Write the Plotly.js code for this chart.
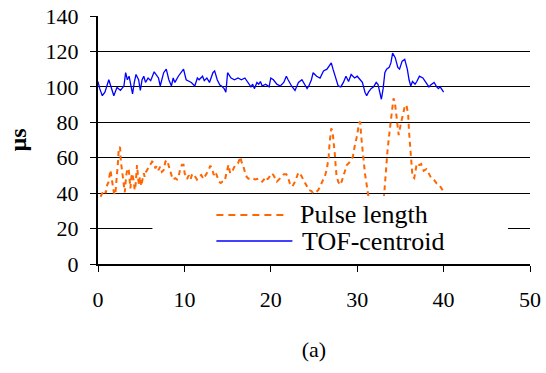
<!DOCTYPE html>
<html>
<head>
<meta charset="utf-8">
<script src="https://cdn.plot.ly/plotly-3.0.1.min.js"></script>
<style>html,body{margin:0;padding:0;background:#fff;}#chart{width:546px;height:373px;}</style>
</head>
<body>
<div id="chart"></div>
<script>
// Time axis (x) values and series
const tofTime = [0.0,0.2,0.5,0.8,1.25,1.45,1.83,2.2,2.6,3.0,3.2,3.4,3.6,3.8,4.0,4.2,4.4,4.6,4.7,4.9,5.1,5.3,5.5,5.8,6.1,6.5,6.7,7.0,7.2,7.6,7.9,8.2,8.5,8.7,8.9,9.3,9.9,10.2,10.8,11.2,11.5,11.7,12.1,12.3,12.6,12.9,13.3,13.5,13.8,14.1,14.3,14.6,14.8,15.0,15.4,15.8,16.2,16.6,17.0,17.3,17.7,17.9,18.1,18.4,18.6,18.8,19.0,19.4,19.8,20.0,20.3,20.7,21.1,21.5,21.8,22.0,22.4,22.8,23.2,23.6,23.8,24.2,24.4,24.7,24.9,25.3,25.7,26.1,26.5,26.8,27.0,27.2,27.4,27.8,28.1,28.4,28.7,29.0,29.3,29.7,30.0,30.3,30.6,30.9,31.1,31.3,31.6,31.9,32.2,32.4,32.6,32.8,33.0,33.2,33.4,33.7,33.9,34.1,34.4,34.7,34.9,35.2,35.5,35.8,36.0,36.2,36.4,36.7,36.9,37.2,37.6,37.9,38.3,38.5,38.9,39.2,39.4,39.6,40.0];
const tofCentroid = [103,99,95,97,104,100.5,95,99.7,98,100.5,108,104,106,101,96,102.5,107,105,104,98,104,106,102.5,105,103.5,108.5,107,105,100.5,108,110,104,100.5,105,102.5,106,110,104,102.5,100.5,105,104,106,103.5,105,102.5,108,109,104,101,100.5,99,97,108,105,104,105,104,105,103,100,101.5,99,102.5,101.5,103,100.5,101.5,100,105,104,101.5,100.5,102.5,106,104,100.5,98,102.5,104,102.5,99,100.5,104,108,106,105,109,110,112,113.5,110,107,100.5,100,102.5,106,103,107,105,106,104,102.5,97,95,97,99,100,102.5,101.5,97,93,99,108,110,111,113.5,119,116.5,111,110,114.5,115.5,110,104,100.5,103,101.5,103,106,105,103,100,101,102.5,100,99,100,97];

const pulseTime = [0.3,0.5,0.8,0.9,1.06,1.2,1.44,1.6,1.83,2.0,2.15,2.33,2.4,2.55,2.65,2.79,2.9,2.98,3.1,3.25,3.4,3.56,3.65,3.75,3.87,3.95,4.1,4.25,4.35,4.52,4.65,4.75,4.85,5.0,5.15,5.3,5.4,5.56,5.8,5.95,6.26,6.45,6.64,6.8,7.0,7.2,7.4,7.6,7.8,8.0,8.15,8.3,8.5,8.65,8.95,9.14,9.33,9.53,9.72,9.9,10.03,10.3,10.5,10.7,10.87,11.07,11.26,11.45,11.65,11.95,12.2,12.5,12.8,13.0,13.2,13.4,13.6,13.8,14.0,14.2,14.4,14.6,14.7,14.9,15.1,15.3,15.5,15.7,15.9,16.2,16.5,16.6,16.8,17.0,17.2,17.4,17.8,18.2,18.6,19.0,19.2,19.4,19.5,19.7,20.1,20.3,20.7,21.1,21.5,21.8,22.0,22.2,22.5,22.8,23.2,23.4,23.6,23.8,24.1,24.4,24.7,24.9,25.3,25.5,25.7,26.0,26.3,26.5,26.7,26.8,27.0,27.15,27.3,27.4,27.5,27.6,27.8,28.0,28.2,28.5,28.8,29.2,29.5,29.7,30.0,30.2,30.35,30.45,30.6,30.7,30.9,31.1,31.3,31.6,32.5,33.1,33.3,33.5,33.7,33.85,34.0,34.2,34.35,34.45,34.55,34.7,34.8,35.0,35.2,35.35,35.5,35.7,35.9,36.0,36.1,36.2,36.3,36.4,36.6,36.7,36.9,37.2,37.4,37.7,38.0,38.3,38.6,38.9,39.2,39.5,39.8,40.0];
const pulseLength = [38,40,41.7,40,44.5,46,53,47,40.5,39,46.5,58.7,65.3,66,57.8,53,46.5,44.6,40.5,49.3,54,53,48,42.7,49.3,51.2,47.7,41.7,44.6,55.9,48,44.6,49.3,44,47.7,51.2,49.3,52,54,55.5,57.8,57,54,55.5,53,55,52,53,57.8,58.6,56,54,49.3,47.7,48.5,47.7,49.3,54,56,56,51.2,48,50,47.7,50.3,51,49.3,47.7,49.3,50.3,48,50.3,53,55.5,54,50.3,52,49.3,46.5,45.7,46.5,46.5,47.7,52,56,51.2,52,54,56,56.8,60.5,57.8,55.5,52,49.3,48.2,48.5,47.7,48.2,46.5,47.7,46.5,47.7,48.2,51.2,50.2,46.5,48.5,50.6,50.6,49,45.5,43.7,46.5,51.7,51,49.3,47.4,44.6,41.8,41.2,39.9,40.8,41.8,43.7,46.5,50.2,54,60.6,68.1,76.5,74.7,69,62.5,55.9,50.2,46.5,44.6,46.5,52,55.9,57.8,60.6,66.2,72.8,79.4,80.3,72.8,65.3,59.6,51,44.6,38,34,34,38,54,63.5,72.8,78.5,87,93.5,91.6,87,80.3,74.7,72.8,78,82.2,85,88.8,89.8,84.2,74.7,67.2,61.5,54.9,49.3,48.5,52,56.8,55.9,56.5,52.6,53.5,51,48.2,47.4,45.5,44.6,42.7,40.8];

const xTicks = [0,10,20,30,40,50];
const yTicks = [0,20,40,60,80,100,120,140];
const seriesNames = ['Pulse length','TOF-centroid'];
const seriesColors = ['#FF6600','#0000FF'];

const FONT = '"Liberation Serif", "Times New Roman", Times, serif';

const traces = [
  {x: pulseTime, y: pulseLength, name: seriesNames[0], type: 'scatter', mode: 'lines',
   line: {color: seriesColors[0], width: 2, dash: '5px,4px'}, showlegend: false, hoverinfo: 'x+y'},
  {x: tofTime, y: tofCentroid, name: seriesNames[1], type: 'scatter', mode: 'lines',
   line: {color: seriesColors[1], width: 1.3}, showlegend: false, hoverinfo: 'x+y'}
];

// manual legend (Excel-style box that sits inside the plot area)
const lgX0 = 0.126, lgX1 = 0.949, lgY0 = 0.008, lgY1 = 0.274;
const swX0 = 0.274, swX1 = [0.438, 0.450], rowY = [0.1976, 0.0927], txtX = [0.4636, 0.4682];

const shapes = [
  {type: 'rect', xref: 'paper', yref: 'paper', x0: lgX0, x1: lgX1, y0: lgY0, y1: lgY1,
   fillcolor: '#ffffff', line: {width: 0}, layer: 'above'}
];
const annotations = [];
for (let i = 0; i < 2; i++) {
  shapes.push({type: 'line', xref: 'paper', yref: 'paper', x0: swX0, x1: swX1[i], y0: rowY[i], y1: rowY[i],
    line: {color: seriesColors[i], width: i === 0 ? 2 : 1.5, dash: i === 0 ? '7px,5px' : 'solid'}, layer: 'above'});
  annotations.push({xref: 'paper', yref: 'paper', x: txtX[i], y: rowY[i], xanchor: 'left', yanchor: 'middle',
    text: seriesNames[i], showarrow: false, font: {family: FONT, size: 26, color: '#000'}});
}

const layout = {
  width: 546, height: 373,
  margin: {l: 97.5, r: 16, t: 16, b: 109},
  paper_bgcolor: '#fff', plot_bgcolor: '#fff',
  font: {family: FONT, size: 22, color: '#000'},
  showlegend: false,
  xaxis: {
    range: [0, 50], tickvals: xTicks, ticktext: xTicks.map(String),
    showgrid: false, zeroline: false, showline: true, linecolor: '#000', linewidth: 1.5,
    ticks: 'outside', ticklen: 6, tickcolor: '#000', tickwidth: 1,
    ticklabelstandoff: 9,
    tickfont: {family: FONT, size: 22, color: '#000'},
    title: {text: '(a)', font: {family: FONT, size: 22, color: '#000'}, standoff: 30},
    automargin: false, fixedrange: true
  },
  yaxis: {
    range: [0, 140], tickvals: yTicks, ticktext: yTicks.map(String),
    showgrid: true, gridcolor: '#000', gridwidth: 1, zeroline: false,
    showline: true, linecolor: '#000', linewidth: 2,
    ticks: 'outside', ticklen: 6, tickcolor: '#000', tickwidth: 1,
    ticklabelstandoff: 7,
    tickfont: {family: FONT, size: 22, color: '#000'},
    title: {text: '<b>µs</b>', font: {family: FONT, size: 24, color: '#000'}, standoff: 12},
    automargin: false, fixedrange: true
  },
  shapes: shapes,
  annotations: annotations
};

Plotly.newPlot('chart', traces, layout, {displayModeBar: false, staticPlot: true});
</script>
</body>
</html>
